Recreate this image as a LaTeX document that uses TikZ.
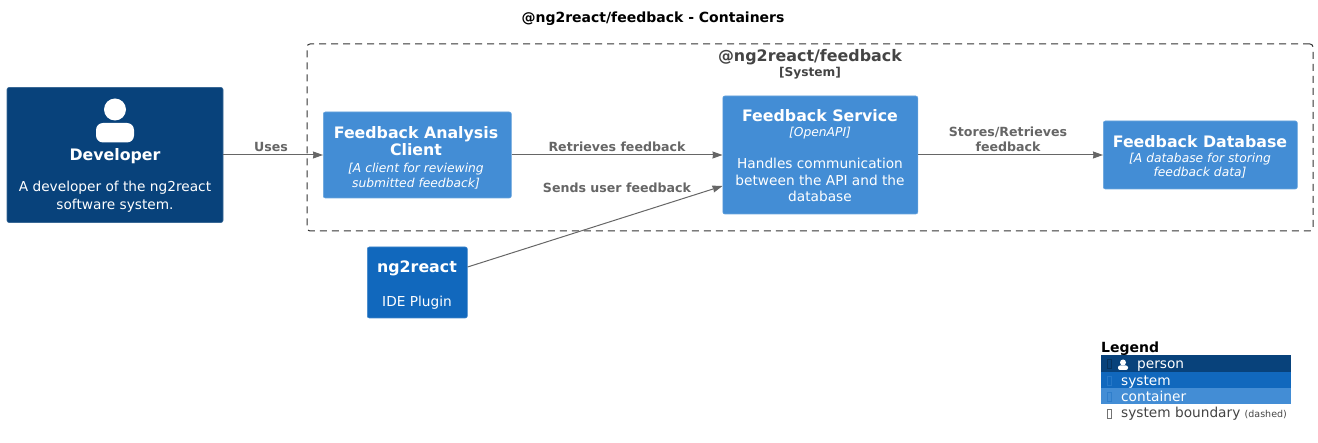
\documentclass[tikz,border=0pt]{standalone}
\usepackage{fontspec}
\setmainfont{DejaVu Sans}
\usetikzlibrary{arrows.meta}
\definecolor{persondark}{HTML}{08427B}
\definecolor{systemblue}{HTML}{1168BD}
\definecolor{containerblue}{HTML}{438DD5}
\definecolor{edgegray}{HTML}{666666}
\definecolor{boundgray}{HTML}{444444}
\newcommand{\fsz}[1]{\fontsize{#1}{#1}\selectfont}
\newcommand{\ttlf}{\fsz{15.8}\bfseries}
\newcommand{\subf}{\fsz{12.3}\mdseries\itshape}
\newcommand{\txtf}{\fsz{13.7}\mdseries\upshape}
\tikzset{
  x=1pt,y=-1pt,
  box/.style={rounded corners=2pt,inner sep=0pt,minimum width=#1},
  boxtext/.style={align=center,text=white,inner sep=0pt,font=\fsz{13.7}},
  personbox/.style={box=216pt,fill=persondark,draw=persondark!80!white,line width=0.6pt,minimum height=135pt},
  sysbox/.style={box=100pt,fill=systemblue,draw=systemblue!80!white,line width=0.6pt,minimum height=71pt},
  contbox/.style={box=#1,fill=containerblue,draw=containerblue!80!white,line width=0.6pt},
  rel/.style={draw=edgegray,line width=1pt,-{Stealth[length=10pt,width=7pt,inset=0.5pt]}},
  rellabel/.style={text=edgegray,font=\fsz{12.6}\bfseries,align=center,inner sep=0pt},
  legrow/.style={minimum width=190pt,minimum height=16.3pt,inner sep=0pt,outer sep=0pt},
  legtext/.style={font=\fsz{13.7},inner sep=0pt,anchor=base west},
  tofu/.style={draw=#1,line width=0.6pt,minimum width=4pt,minimum height=9pt,inner sep=0pt},
}
\begin{document}
\begin{tikzpicture}
\useasboundingbox (0,0) rectangle (1318,443);
\node (title) at (653,19) [font=\fsz{14}\bfseries,inner sep=0pt] {@ng2react/feedback - Containers};

\node (bound) at (810,137.5) [draw=black!80,dashed,dash pattern=on 7pt off 5pt,line width=1pt,rounded corners=3pt,minimum width=1006pt,minimum height=187pt,inner sep=0pt] {};
\node (boundtitle) at (810,57.5) [text=boundgray,font=\fsz{15.9}\bfseries,inner sep=0pt] {@ng2react/feedback};
\node (boundkind) at (810,73) [text=boundgray,font=\fsz{12.2}\bfseries,inner sep=0pt] {[System]};

\node (dev) at (115,155) [personbox] {};
\fill[white] (115,109.5) circle (11);
\fill[white,rounded corners=7pt] (96,142.5) -- (96,123) -- (134,123) -- (134,142.5) -- cycle;
\node (devtitle) at (115,156.5) [text=white,font=\fsz{15.8}\bfseries,inner sep=0pt] {Developer};
\node (devtext) at (115,197) [boxtext] {A developer of the ng2react\\[4.5pt]software system.};

\node (client) at (417.3,155) [contbox=188pt,minimum height=86pt] {};
\node (clienttext) at (416,157.7) [boxtext] {\ttlf Feedback Analysis\\[1pt]\ttlf Client\\[3pt]\subf [A client for reviewing\\[1pt]\subf submitted feedback]};

\node (service) at (820.3,155) [contbox=195pt,minimum height=118pt] {};
\node (servicetext) at (820,155.5) [boxtext] {\ttlf Feedback Service\\[1pt]\subf [OpenAPI]\\[19pt]\txtf Handles communication\\[2.5pt]\txtf between the API and the\\[2.5pt]\txtf database};

\node (db) at (1200.3,155) [contbox=194pt,minimum height=68pt] {};
\node (dbtext) at (1200,157) [boxtext] {\ttlf Feedback Database\\[1pt]\subf [A database for storing\\[0.5pt]\subf feedback data]};

\node (plugin) at (417.3,282.5) [sysbox] {};
\node (plugintext) at (417,285) [boxtext] {\ttlf ng2react\\[19pt]\txtf IDE Plugin};

\coordinate (pluginout) at (plugin.east |- 0,267);
\coordinate (servicein) at (service.west |- 0,186);

\draw[rel] (dev) -- (client);
\draw[rel] (client) -- (service);
\draw[rel] (service) -- (db);
\draw[rel] (pluginout) -- (servicein);

\node (l1) at (271,147) [rellabel] {Uses};
\node (l2) at (617,147) [rellabel] {Retrieves feedback};
\node (l3) at (617,188) [rellabel] {Sends user feedback};
\node (l4) at (1008,139.5) [rellabel] {Stores/Retrieves\\[2pt]feedback};

\node (legend) at (1101,348.5) [anchor=west,font=\fsz{14}\bfseries,inner sep=0pt] {Legend};
\node (r1) at (1196,363.5) [legrow,fill=persondark] {};
\node (r2) at (1196,380) [legrow,fill=systemblue] {};
\node (r3) at (1196,396.3) [legrow,fill=containerblue] {};
\fill[white] (1123,362.5) circle (3);
\fill[white,rounded corners=2pt] (1118,370) -- (1118,365.5) -- (1128,365.5) -- (1128,370) -- cycle;
\node (t0) at (1109,363.5) [tofu=persondark!75!black] {};
\node (t1) at (1109,381) [tofu=systemblue!60!containerblue] {};
\node (t2) at (1109,397) [tofu=systemblue!40!containerblue] {};
\node (t3) at (1109,413.5) [tofu=boundgray!75!white] {};
\node (lt0) at (1137,368.5) [legtext,text=white] {person};
\node (lt1) at (1121,385.5) [legtext,text=white] {system};
\node (lt2) at (1121,401.5) [legtext,text=white] {container};
\node (lt3) at (1121,417.5) [legtext,text=boundgray] {system boundary {\fsz{9.5}(dashed)}};
\end{tikzpicture}
\end{document}
